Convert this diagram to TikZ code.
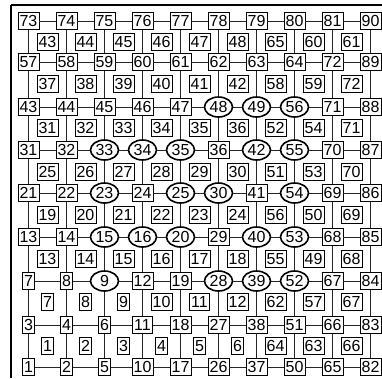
\documentclass[tikz,border=0pt]{standalone}
\usepackage{fontspec}
\setmainfont{Liberation Sans}
\usetikzlibrary{shapes.geometric}
\begin{document}
\begin{tikzpicture}[x=1pt,y=-1pt,
  every node/.style={font=\fontsize{16}{16}\selectfont},
  vbox/.style={draw,line width=0.7pt,fill=white,inner xsep=1.5pt,inner ysep=3pt,text height=11.5pt,text depth=0pt},
  vcirc/.style={draw,ellipse,line width=1.6pt,fill=white,inner sep=0pt,minimum width=28pt,minimum height=20pt,text height=11.5pt,text depth=0pt},
  cbox/.style={draw,line width=0.7pt,fill=white,inner xsep=1.5pt,inner ysep=2.5pt,text height=11.5pt,text depth=0pt},
  link/.style={line width=0.6pt,black!85}]
\useasboundingbox (0,0) rectangle (382,378);
% frame
\draw[line width=1.6pt] (11,378) -- (11,5);
\draw[line width=1.2pt] (11,5) -- (382,5);
% vertex rows
\foreach \lab/\sty [count=\c] in {73/vbox,74/vbox,75/vbox,76/vbox,77/vbox,78/vbox,79/vbox,80/vbox,81/vbox,90/vbox}
  \node[\sty] (v1-\c) at ({38*\c-9.5},21) {\lab};
\foreach \lab/\sty [count=\c] in {57/vbox,58/vbox,59/vbox,60/vbox,61/vbox,62/vbox,63/vbox,64/vbox,72/vbox,89/vbox}
  \node[\sty] (v2-\c) at ({38*\c-9.5},62) {\lab};
\foreach \lab/\sty [count=\c] in {43/vbox,44/vbox,45/vbox,46/vbox,47/vbox,48/vcirc,49/vcirc,56/vcirc,71/vbox,88/vbox}
  \node[\sty] (v3-\c) at ({38*\c-9.5},107) {\lab};
\foreach \lab/\sty [count=\c] in {31/vbox,32/vbox,33/vcirc,34/vcirc,35/vcirc,36/vbox,42/vcirc,55/vcirc,70/vbox,87/vbox}
  \node[\sty] (v4-\c) at ({38*\c-9.5},150) {\lab};
\foreach \lab/\sty [count=\c] in {21/vbox,22/vbox,23/vcirc,24/vbox,25/vcirc,30/vcirc,41/vbox,54/vcirc,69/vbox,86/vbox}
  \node[\sty] (v5-\c) at ({38*\c-9.5},193) {\lab};
\foreach \lab/\sty [count=\c] in {13/vbox,14/vbox,15/vcirc,16/vcirc,20/vcirc,29/vbox,40/vcirc,53/vcirc,68/vbox,85/vbox}
  \node[\sty] (v6-\c) at ({38*\c-9.5},237) {\lab};
\foreach \lab/\sty [count=\c] in {7/vbox,8/vbox,9/vcirc,12/vbox,19/vbox,28/vcirc,39/vcirc,52/vcirc,67/vbox,84/vbox}
  \node[\sty] (v7-\c) at ({38*\c-9.5},281) {\lab};
\foreach \lab/\sty [count=\c] in {3/vbox,4/vbox,6/vbox,11/vbox,18/vbox,27/vbox,38/vbox,51/vbox,66/vbox,83/vbox}
  \node[\sty] (v8-\c) at ({38*\c-9.5},325) {\lab};
\foreach \lab/\sty [count=\c] in {1/vbox,2/vbox,5/vbox,10/vbox,17/vbox,26/vbox,37/vbox,50/vbox,65/vbox,82/vbox}
  \node[\sty] (v9-\c) at ({38*\c-9.5},367) {\lab};
% connectors
\foreach \r in {1,...,9}
  \foreach \c [count=\cn from 2] in {1,...,9}
    \draw[link] (v\r-\c) -- (v\r-\cn);
\foreach \r [count=\rn from 2] in {1,...,8}
  \foreach \c in {1,...,10}
    \draw[link] (v\r-\c) -- (v\rn-\c);
% cell labels
\foreach \lab [count=\c] in {43,44,45,46,47,48,65,60,61}
  \node[cbox] (c1-\c) at ({38*\c+9.5},42) {\lab};
\foreach \lab [count=\c] in {37,38,39,40,41,42,58,59,72}
  \node[cbox] (c2-\c) at ({38*\c+9.5},84) {\lab};
\foreach \lab [count=\c] in {31,32,33,34,35,36,52,54,71}
  \node[cbox] (c3-\c) at ({38*\c+9.5},128) {\lab};
\foreach \lab [count=\c] in {25,26,27,28,29,30,51,53,70}
  \node[cbox] (c4-\c) at ({38*\c+9.5},172) {\lab};
\foreach \lab [count=\c] in {19,20,21,22,23,24,56,50,69}
  \node[cbox] (c5-\c) at ({38*\c+9.5},215) {\lab};
\foreach \lab [count=\c] in {13,14,15,16,17,18,55,49,68}
  \node[cbox] (c6-\c) at ({38*\c+9.5},259) {\lab};
\foreach \lab [count=\c] in {7,8,9,10,11,12,62,57,67}
  \node[cbox] (c7-\c) at ({38*\c+9.5},302) {\lab};
\foreach \lab [count=\c] in {1,2,3,4,5,6,64,63,66}
  \node[cbox] (c8-\c) at ({38*\c+9.5},346) {\lab};
\end{tikzpicture}
\end{document}
